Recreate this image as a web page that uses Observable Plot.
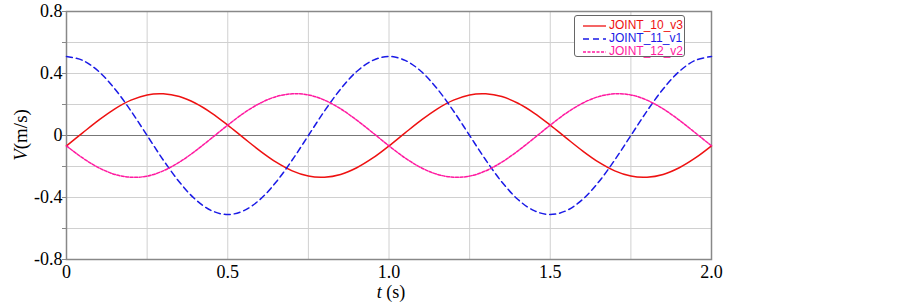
<!DOCTYPE html>
<html>
<head>
<meta charset="utf-8">
<script src="https://cdn.jsdelivr.net/npm/d3@7"></script>
<script src="https://cdn.jsdelivr.net/npm/@observablehq/plot@0.6"></script>
<style>
  html, body { margin: 0; padding: 0; background: #fff; }
  #wrap { position: relative; width: 903px; height: 302px; }
  #legend {
    position: absolute; left: 574px; top: 15px; width: 111px; height: 42px;
    border: 1px solid #666; border-radius: 3px; background: #fff;
    font-family: "Liberation Sans", Arial, sans-serif; font-size: 12px; box-sizing: border-box;
  }
  #legend .row { position: absolute; left: 8px; height: 13px; line-height: 13px; display: flex; align-items: center; white-space: nowrap; }
  #legend svg { margin-right: 2px; }
</style>
</head>
<body>
<div id="wrap"></div>
<script>
// time samples (s)
const time = [0,0.05,0.1,0.15,0.2,0.25,0.3,0.35,0.4,0.45,0.5,0.55,0.6,0.65,0.7,0.75,0.8,0.85,0.9,0.95,
              1,1.05,1.1,1.15,1.2,1.25,1.3,1.35,1.4,1.45,1.5,1.55,1.6,1.65,1.7,1.75,1.8,1.85,1.9,1.95,2];
// JOINT_10_v3 (m/s)
const joint10 = [-0.067,0.017,0.099,0.172,0.228,0.262,0.269,0.251,0.208,0.145,0.067,-0.017,-0.099,-0.172,-0.228,-0.262,-0.269,-0.251,-0.208,-0.145,
                 -0.067,0.017,0.099,0.172,0.228,0.262,0.269,0.251,0.208,0.145,0.067,-0.017,-0.099,-0.172,-0.228,-0.262,-0.269,-0.251,-0.208,-0.145,-0.067];
// JOINT_11_v1 (m/s)
const joint11 = [0.51,0.485,0.413,0.3,0.158,0,-0.158,-0.3,-0.413,-0.485,-0.51,-0.485,-0.413,-0.3,-0.158,0,0.158,0.3,0.413,0.485,
                 0.51,0.485,0.413,0.3,0.158,0,-0.158,-0.3,-0.413,-0.485,-0.51,-0.485,-0.413,-0.3,-0.158,0,0.158,0.3,0.413,0.485,0.51];
// JOINT_12_v2 (m/s)
const joint12 = [-0.067,-0.145,-0.208,-0.251,-0.269,-0.262,-0.228,-0.172,-0.099,-0.017,0.067,0.145,0.208,0.251,0.269,0.262,0.228,0.172,0.099,0.017,
                 -0.067,-0.145,-0.208,-0.251,-0.269,-0.262,-0.228,-0.172,-0.099,-0.017,0.067,0.145,0.208,0.251,0.269,0.262,0.228,0.172,0.099,0.017,-0.067];

const seriesNames = ["JOINT_10_v3", "JOINT_11_v1", "JOINT_12_v2"];
const seriesColors = ["#ee1111", "#1a1ae6", "#ff1aa0"];
const seriesDash = [null, "6,4", "3,1.5"];

const xTickValues = [0, 0.5, 1, 1.5, 2];
const xTickLabels = ["0", "0.5", "1.0", "1.5", "2.0"];
const xGridValues = [0.25, 0.5, 0.75, 1, 1.25, 1.5, 1.75];
const yTickValues = [-0.8, -0.4, 0, 0.4, 0.8];
const yTickLabels = ["-0.8", "-0.4", "0", "0.4", "0.8"];
const yGridValues = [-0.6, -0.4, -0.2, 0.2, 0.4, 0.6];
const yMinorTicks = [-0.8, -0.6, -0.4, -0.2, 0, 0.2, 0.4, 0.6, 0.8];

const rows = [];
[joint10, joint11, joint12].forEach((arr, i) => {
  arr.forEach((v, j) => rows.push({t: time[j], v, s: seriesNames[i]}));
});

const lineMarks = seriesNames.map((name, i) =>
  Plot.line(rows.filter(d => d.s === name), {
    x: "t", y: "v", stroke: seriesColors[i], strokeWidth: 1.5,
    strokeDasharray: seriesDash[i], curve: "catmull-rom"
  })
);

const chart = Plot.plot({
  width: 903, height: 302,
  marginLeft: 66, marginRight: 192, marginTop: 11, marginBottom: 43,
  style: {fontFamily: "'Liberation Serif', 'Times New Roman', serif", fontSize: "18px", color: "#000", background: "#fff"},
  x: {domain: [0, 2]},
  y: {domain: [-0.8, 0.8]},
  marks: [
    Plot.ruleX(xGridValues, {stroke: "#d0d0d0", strokeWidth: 1}),
    Plot.ruleY(yGridValues, {stroke: "#d0d0d0", strokeWidth: 1}),
    Plot.ruleY([0], {stroke: "#777", strokeWidth: 1.2}),
    Plot.frame({stroke: "#888", strokeWidth: 1.5}),
    ...lineMarks,
    Plot.axisY(yMinorTicks, {tickSize: 4, stroke: "#888", text: null, label: null}),
    Plot.axisY(yTickValues, {tickSize: 0, tickPadding: 4, fontSize: 18,
      tickFormat: d => yTickLabels[yTickValues.indexOf(d)], label: null}),
    Plot.axisX(xTickValues, {tickSize: 0, tickPadding: 6, fontSize: 18,
      tickFormat: d => xTickLabels[xTickValues.indexOf(d)], label: null})
  ]
});

const wrap = document.getElementById("wrap");
wrap.appendChild(chart);

const svg = d3.select(chart);
const yl = svg.append("text")
  .attr("transform", "translate(27,135) rotate(-90)")
  .attr("text-anchor", "middle")
  .attr("font-family", "'Liberation Serif', 'Times New Roman', serif")
  .attr("font-size", 19);
yl.append("tspan").attr("font-style", "italic").text("V");
yl.append("tspan").text("(m/s)");

const xl = svg.append("text")
  .attr("x", 391).attr("y", 298)
  .attr("text-anchor", "middle")
  .attr("font-family", "'Liberation Serif', 'Times New Roman', serif")
  .attr("font-size", 18);
xl.append("tspan").attr("font-style", "italic").text("t");
xl.append("tspan").text(" (s)");

// legend
const legend = document.createElement("div");
legend.id = "legend";
seriesNames.forEach((name, i) => {
  const row = document.createElement("div");
  row.className = "row";
  row.style.top = (3 + i * 13) + "px";
  row.innerHTML = `<svg width="24" height="6"><line x1="0" x2="23" y1="3" y2="3" stroke="${seriesColors[i]}" stroke-width="1.3" ${seriesDash[i] ? `stroke-dasharray="${seriesDash[i]}"` : ""}/></svg><span style="color:${seriesColors[i]}">${name}</span>`;
  legend.appendChild(row);
});
wrap.appendChild(legend);
</script>
</body>
</html>
